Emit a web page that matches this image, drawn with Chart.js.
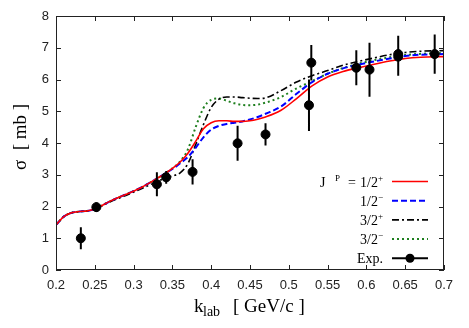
<!DOCTYPE html>
<html lang="en">
  <head>
    <meta charset="UTF-8" />
    <title>Cross section vs k_lab</title>
    <script src="https://cdn.jsdelivr.net/npm/chart.js"></script>
    <style>
      body {
        margin: 0;
        background: #fff;
      }
      #wrap {
        width: 469px;
        height: 328px;
      }
    </style>
  </head>
  <body>
    <div id="wrap"><canvas id="xsChart" width="469" height="328"></canvas></div>

    <script>
      // momentum grid for the model curves (GeV/c)
      const kGrid = [0.20, 0.21, 0.22, 0.23, 0.24, 0.25, 0.27, 0.29, 0.31, 0.33, 0.34, 0.35, 0.36, 0.37, 0.38, 0.39,
        0.40, 0.41, 0.42, 0.43, 0.44, 0.45, 0.46, 0.47, 0.49, 0.51, 0.53, 0.55, 0.57, 0.59, 0.61, 0.63, 0.65, 0.67, 0.70];

      // cross sections (mb) for each J^P assumption
      const sigmaHalfPlus = [1.42, 1.68, 1.80, 1.84, 1.86, 1.92, 2.17, 2.38, 2.60, 2.88, 3.03, 3.20, 3.40, 3.68, 4.05, 4.45,
        4.64, 4.70, 4.70, 4.68, 4.68, 4.70, 4.75, 4.82, 5.03, 5.40, 5.80, 6.08, 6.25, 6.37, 6.48, 6.58, 6.66, 6.70, 6.72];
      const sigmaHalfMinus = [1.42, 1.68, 1.80, 1.84, 1.86, 1.92, 2.17, 2.38, 2.60, 2.88, 3.03, 3.18, 3.36, 3.56, 3.85, 4.18,
        4.42, 4.54, 4.60, 4.64, 4.68, 4.74, 4.82, 4.92, 5.15, 5.55, 5.92, 6.18, 6.35, 6.47, 6.57, 6.66, 6.74, 6.78, 6.80];
      const sigmaThreeHalfPlus = [1.42, 1.68, 1.80, 1.84, 1.86, 1.92, 2.15, 2.35, 2.56, 2.78, 2.88, 2.96, 3.06, 3.35, 3.95, 4.58,
        5.12, 5.38, 5.45, 5.45, 5.43, 5.41, 5.40, 5.42, 5.65, 5.92, 6.12, 6.28, 6.45, 6.57, 6.68, 6.78, 6.85, 6.89, 6.91];
      const sigmaThreeHalfMinus = [1.42, 1.68, 1.80, 1.84, 1.86, 1.92, 2.17, 2.38, 2.60, 2.88, 3.03, 3.20, 3.42, 3.80, 4.50, 5.10,
        5.36, 5.40, 5.33, 5.25, 5.20, 5.19, 5.21, 5.27, 5.45, 5.72, 5.95, 6.18, 6.36, 6.50, 6.61, 6.70, 6.77, 6.81, 6.83];

      // experimental points
      const expK = [0.232, 0.252, 0.330, 0.342, 0.376, 0.434, 0.470, 0.526, 0.529, 0.587, 0.604, 0.641, 0.641, 0.688];
      const expSigma = [1.00, 1.98, 2.70, 2.92, 3.09, 3.99, 4.27, 5.19, 6.53, 6.37, 6.31, 6.80, 6.72, 6.80];
      const expErr = [0.35, 0.15, 0.38, 0.20, 0.40, 0.55, 0.35, 0.81, 0.56, 0.55, 0.85, 0.58, 0.60, 0.62];

      const xTicks = [0.2, 0.25, 0.3, 0.35, 0.4, 0.45, 0.5, 0.55, 0.6, 0.65, 0.7];
      const yTicks = [0, 1, 2, 3, 4, 5, 6, 7, 8];

      const toPoints = (xs, ys) => xs.map((v, i) => ({ x: v, y: ys[i] }));

      // error bars, drawn just before the exp. dots
      const errorBars = {
        id: "errorBars",
        beforeDatasetDraw(chart, args) {
          if (args.index !== 0) return;
          const { ctx, scales: { x, y } } = chart;
          ctx.save();
          ctx.strokeStyle = "#000";
          ctx.lineWidth = 2;
          ctx.beginPath();
          expK.forEach((k, i) => {
            const px = x.getPixelForValue(k);
            ctx.moveTo(px, y.getPixelForValue(expSigma[i] - expErr[i]));
            ctx.lineTo(px, y.getPixelForValue(expSigma[i] + expErr[i]));
          });
          ctx.stroke();
          ctx.restore();
        },
      };

      // gnuplot-like frame with inward ticks, titles and legend
      const decorations = {
        id: "decorations",
        afterDraw(chart) {
          const { ctx, chartArea: a, scales: { x, y } } = chart;
          ctx.save();
          ctx.strokeStyle = "#222";
          ctx.lineWidth = 1;
          ctx.beginPath();
          xTicks.forEach((v) => {
            const px = Math.round(x.getPixelForValue(v)) + 0.5;
            ctx.moveTo(px, a.bottom); ctx.lineTo(px, a.bottom - 5);
            ctx.moveTo(px, a.top); ctx.lineTo(px, a.top + 5);
          });
          yTicks.forEach((v) => {
            const py = Math.round(y.getPixelForValue(v)) + 0.5;
            ctx.moveTo(a.left, py); ctx.lineTo(a.left + 5, py);
            ctx.moveTo(a.right, py); ctx.lineTo(a.right - 5, py);
          });
          ctx.stroke();
          ctx.strokeRect(a.left + 0.5, a.top + 0.5, a.right - a.left - 1, a.bottom - a.top - 1);

          // axis titles
          ctx.fillStyle = "#000";
          ctx.font = "19px 'Liberation Serif', serif";
          ctx.textBaseline = "alphabetic";
          ctx.textAlign = "left";
          ctx.fillText("k", 194, 312);
          ctx.font = "14px 'Liberation Serif', serif";
          ctx.fillText("lab", 203, 316);
          ctx.font = "19px 'Liberation Serif', serif";
          ctx.fillText("[ GeV/c ]", 233, 312);

          ctx.save();
          ctx.translate(26, 137);
          ctx.rotate(-Math.PI / 2);
          ctx.textAlign = "center";
          ctx.fillText("\u03c3  [ mb ]", 0, 0);
          ctx.restore();

          // legend
          const rows = [
            { lab: "1/2", sup: "+", color: "#ff0000", dash: [], width: 1.6 },
            { lab: "1/2", sup: "\u2212", color: "#0000ff", dash: [6, 3], width: 2 },
            { lab: "3/2", sup: "+", color: "#000000", dash: [7, 3, 2, 3], width: 1.6 },
            { lab: "3/2", sup: "\u2212", color: "#1e7f1e", dash: [2, 3], width: 2 },
            { lab: "Exp.", sup: "", color: "#000000", dash: [], width: 2, dot: true },
          ];
          const right = 383;
          rows.forEach((r, i) => {
            const ly = 181.5 + i * 19.2;
            ctx.font = "9px 'Liberation Serif', serif";
            const supW = r.sup ? ctx.measureText(r.sup).width : 0;
            ctx.fillStyle = "#000";
            ctx.textAlign = "left";
            if (r.sup) ctx.fillText(r.sup, right - supW, ly - 1);
            ctx.font = "14px 'Liberation Serif', serif";
            const labW = ctx.measureText(r.lab).width;
            ctx.fillText(r.lab, right - supW - labW, ly + 5);
            if (i === 0) {
              ctx.fillText("J", 320, ly + 5);
              ctx.fillText("=", right - supW - labW - 12, ly + 5);
              ctx.font = "9px 'Liberation Serif', serif";
              ctx.fillText("P", 335, ly - 1);
            }
            ctx.strokeStyle = r.color;
            ctx.lineWidth = r.width;
            ctx.setLineDash(r.dash);
            ctx.beginPath();
            ctx.moveTo(392, ly);
            ctx.lineTo(428, ly);
            ctx.stroke();
            ctx.setLineDash([]);
            if (r.dot) {
              ctx.fillStyle = "#000";
              ctx.beginPath();
              ctx.arc(410, ly, 4.5, 0, Math.PI * 2);
              ctx.fill();
            }
          });
          ctx.restore();
        },
      };

      const curve = (data, color, dash, width) => ({
        type: "line",
        data: toPoints(kGrid, data),
        borderColor: color,
        borderWidth: width,
        borderDash: dash,
        pointRadius: 0,
        fill: false,
        cubicInterpolationMode: "monotone",
      });

      new Chart(document.getElementById("xsChart").getContext("2d"), {
        type: "scatter",
        data: {
          datasets: [
            {
              type: "scatter",
              data: toPoints(expK, expSigma),
              backgroundColor: "#000",
              borderColor: "#000",
              pointRadius: 4.5,
              showLine: false,
            },
            curve(sigmaHalfPlus, "#ff0000", [], 1.6),
            curve(sigmaHalfMinus, "#0000ff", [6, 3], 2),
            curve(sigmaThreeHalfPlus, "#000000", [7, 3, 2, 3], 1.6),
            curve(sigmaThreeHalfMinus, "#1e7f1e", [2, 3], 2),
          ],
        },
        options: {
          responsive: false,
          devicePixelRatio: 1,
          animation: false,
          layout: { padding: { left: 0, top: 16, right: 25, bottom: 0 } },
          plugins: { legend: { display: false }, tooltip: { enabled: false } },
          scales: {
            x: {
              type: "linear",
              min: 0.2,
              max: 0.7,
              afterBuildTicks: (s) => { s.ticks = xTicks.map((v) => ({ value: v })); },
              afterFit: (s) => { s.height = 58; },
              grid: { display: false, drawTicks: false },
              border: { display: false },
              ticks: {
                padding: 8,
                color: "#222",
                font: { family: "'Liberation Sans', Arial, sans-serif", size: 13 },
                maxRotation: 0,
                callback: (v) => String(Number(v.toFixed(2))),
              },
            },
            y: {
              type: "linear",
              min: 0,
              max: 8,
              afterBuildTicks: (s) => { s.ticks = yTicks.map((v) => ({ value: v })); },
              afterFit: (s) => { s.width = 56; },
              grid: { display: false, drawTicks: false },
              border: { display: false },
              ticks: {
                padding: 7,
                color: "#222",
                font: { family: "'Liberation Sans', Arial, sans-serif", size: 13 },
              },
            },
          },
        },
        plugins: [errorBars, decorations],
      });
    </script>
  </body>
</html>
